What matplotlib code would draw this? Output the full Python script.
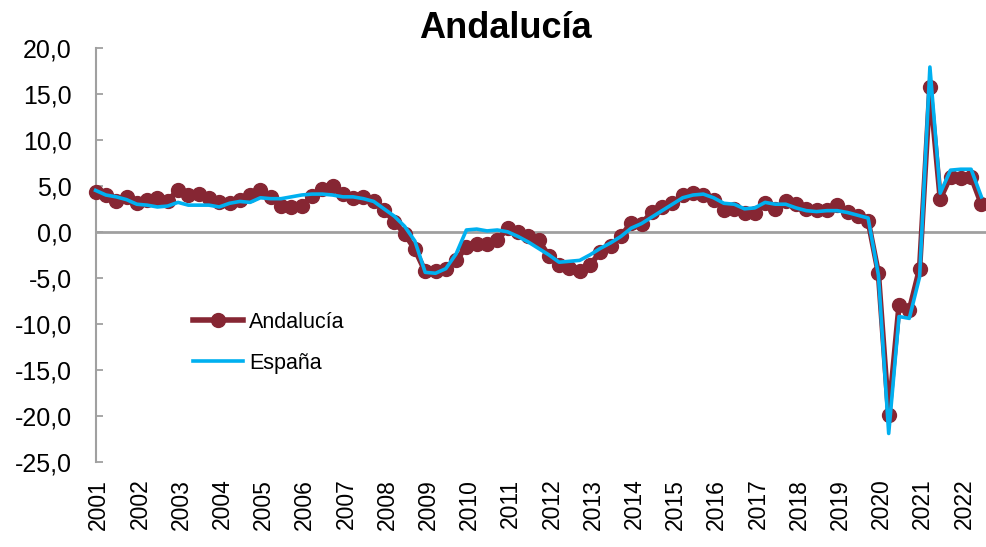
import matplotlib
matplotlib.use("Agg")
import matplotlib.pyplot as plt
import numpy as np

plt.rcParams['font.family'] = ['Liberation Sans', 'DejaVu Sans']

years = list(range(2001, 2023))
year_labels = [str(y) for y in years]

andalucia = [
    4.3, 4.0, 3.4, 3.8, 3.1, 3.5, 3.7, 3.4, 4.5, 4.0, 4.1, 3.7,      # 2001-2003
    3.2, 3.1, 3.5, 4.0, 4.5, 3.8, 2.8, 2.7, 2.8, 3.9, 4.6, 5.0,      # 2004-2006
    4.1, 3.7, 3.8, 3.3, 2.4, 1.1, -0.2, -1.9, -4.3, -4.3, -4.0, -3.1, # 2007-2009
    -1.6, -1.3, -1.3, -0.9, 0.4, 0.0, -0.5, -0.9, -2.6, -3.6, -3.9, -4.2,  # 2010-2012
    -3.6, -2.2, -1.5, -0.5, 1.0, 0.9, 2.1, 2.7, 3.1, 4.0, 4.2, 4.0,  # 2013-2015
    3.5, 2.4, 2.5, 2.0, 2.0, 3.1, 2.5, 3.3, 3.0, 2.5, 2.4, 2.4,      # 2016-2018
    2.9, 2.1, 1.7, 1.2, -4.5, -19.9, -8.0, -8.5, -4.0, 15.7, 3.6, 6.0, # 2019-2021
    5.8, 6.0, 3.0,                                                   # 2022
]

espana = [
    4.5, 4.0, 3.8, 3.5, 3.0, 2.9, 2.7, 2.8, 3.2, 2.9, 2.9, 2.9,
    2.7, 3.1, 3.3, 3.2, 3.7, 3.6, 3.6, 3.8, 4.0, 4.1, 4.1, 4.0,
    3.8, 3.8, 3.6, 3.3, 2.5, 1.7, 0.6, -1.0, -4.4, -4.5, -4.0, -2.4,
    0.2, 0.3, 0.1, 0.2, 0.0, -0.5, -1.1, -1.8, -2.5, -3.3, -3.2, -3.1,
    -2.5, -1.8, -1.2, -0.5, 0.4, 0.9, 1.6, 2.3, 3.0, 3.7, 4.0, 4.1,
    3.7, 3.1, 3.0, 2.5, 2.6, 3.2, 3.0, 3.0, 2.6, 2.3, 2.2, 2.3,
    2.3, 2.1, 1.8, 1.5, -4.7, -21.9, -9.2, -9.4, -4.9, 17.9, 4.2, 6.7,
    6.8, 6.8, 3.8,
]

y_ticks = [20, 15, 10, 5, 0, -5, -10, -15, -20, -25]

W, H = 986, 547
fig = plt.figure(figsize=(W / 100, H / 100), dpi=100)
ax = fig.add_axes([95.6 / W, 1 - 462 / H, (W - 95.6) / W, (462 - 47.7) / H])

x = np.arange(len(andalucia))
dark_red = '#862633'
cyan = '#00B0F0'

ax.axhline(0, color='#A0A0A0', lw=2, zorder=1)
ax.plot(x, andalucia, color=dark_red, lw=4, marker='o', markersize=10,
        label='Andalucía', zorder=3, clip_on=False)
ax.plot(x[:len(espana)], espana, color=cyan, lw=2.6, label='España', zorder=4,
        clip_on=False)

ax.set_ylim(-25, 20)
ax.set_xlim(0, (W - 95.6) / 10.3)
ax.set_yticks(y_ticks)
ax.set_yticklabels([f"{v:.1f}".replace('.', ',') for v in y_ticks], fontsize=18)
ax.tick_params(axis='y', direction='in', length=5, width=1.3, color='#A0A0A0', pad=17)

ax.set_xticks([4 * i + 0.3 for i in range(len(years))])
ax.set_xticklabels(year_labels, rotation=90, fontsize=16.5, va='top', ha='center')
ax.tick_params(axis='x', length=0, pad=12)

for s in ['top', 'right', 'bottom']:
    ax.spines[s].set_visible(False)
ax.spines['left'].set_color('#A0A0A0')
ax.spines['left'].set_linewidth(1.5)

fig.text(505 / W, 1 - 28 / H, 'Andalucía', fontsize=26, fontweight='bold',
         ha='center', va='center')

leg = ax.legend(loc='upper left', bbox_to_anchor=(0.088, 0.41), frameon=False,
                fontsize=15.5, handlelength=2.3, handletextpad=0.3, labelspacing=0.95)

fig.savefig('out.png', dpi=100)
